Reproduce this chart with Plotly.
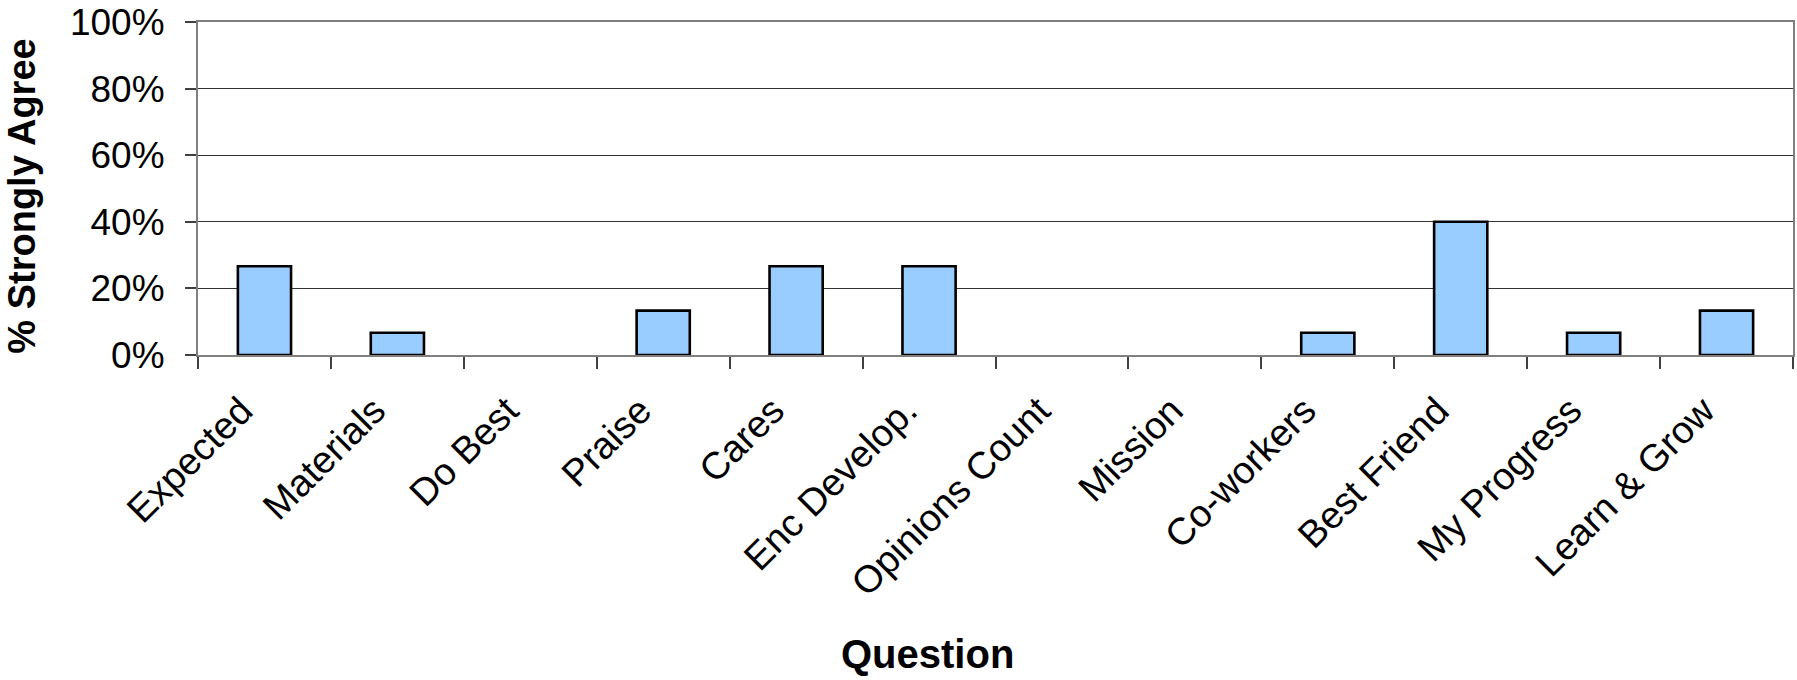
import plotly.graph_objects as go

# Survey questions and share of respondents who strongly agree
questions = [
    "Expected", "Materials", "Do Best", "Praise", "Cares", "Enc Develop.",
    "Opinions Count", "Mission", "Co-workers", "Best Friend", "My Progress",
    "Learn & Grow",
]
strongly_agree = [0.2667, 0.0667, 0.0, 0.1333, 0.2667, 0.2667,
                  0.0, 0.0, 0.0667, 0.4, 0.0667, 0.1333]

y_ticks = [0, 0.2, 0.4, 0.6, 0.8, 1.0]
y_tick_text = ["0%", "20%", "40%", "60%", "80%", "100%"]

FONT = "Arial, Liberation Sans, sans-serif"

W, H = 1797, 680
L, R, T, B = 198, 2, 19, 325
plot_w = W - L - R
plot_h = H - T - B

# Empty categories get no outline so nothing is drawn for them
outline_widths = [2.6 if v > 0 else 0 for v in strongly_agree]

fig = go.Figure(
    go.Bar(
        x=questions,
        y=strongly_agree,
        marker=dict(color="#99CCFF",
                    line=dict(color="#000000", width=outline_widths)),
    )
)

fig.update_layout(
    width=W,
    height=H,
    margin=dict(l=L, r=R, t=T, b=B, pad=0),
    paper_bgcolor="white",
    plot_bgcolor="white",
    bargap=0.6,
    showlegend=False,
    font=dict(family=FONT, size=37, color="black"),
)

fig.update_xaxes(
    type="category",
    tickangle=-45,
    tickson="boundaries",
    ticks="outside",
    ticklen=12,
    tickwidth=1.5,
    tickcolor="#404040",
    showline=True,
    linecolor="#808080",
    linewidth=2,
    mirror=True,
    showgrid=False,
    tickfont=dict(family=FONT, size=38, color="black"),
    ticklabelstandoff=16,
    ticklabelshift=-23,
    ticklabeloverflow="allow",
)

fig.update_yaxes(
    range=[0, 1],
    tickvals=y_ticks,
    ticktext=y_tick_text,
    ticks="outside",
    ticklen=11,
    tickwidth=1.5,
    tickcolor="#404040",
    showline=True,
    linecolor="#808080",
    linewidth=2,
    mirror=True,
    showgrid=True,
    gridcolor="#333333",
    gridwidth=1,
    zeroline=False,
    tickfont=dict(family=FONT, size=37, color="black"),
    ticklabelstandoff=13,
    ticklabeloverflow="allow",
)

# Axis titles placed as annotations
fig.add_annotation(
    text="<b>% Strongly Agree</b>",
    textangle=-90,
    xref="paper", yref="paper",
    x=(22 - L) / plot_w, y=(T + plot_h - 195) / plot_h,
    xanchor="center", yanchor="middle",
    showarrow=False,
    font=dict(family=FONT, size=38, color="black"),
)
fig.add_annotation(
    text="<b>Question</b>",
    xref="paper", yref="paper",
    x=(928 - L) / plot_w, y=(T + plot_h - 657) / plot_h,
    xanchor="center", yanchor="middle",
    showarrow=False,
    font=dict(family=FONT, size=40, color="black"),
)

fig.write_html("out.html")
